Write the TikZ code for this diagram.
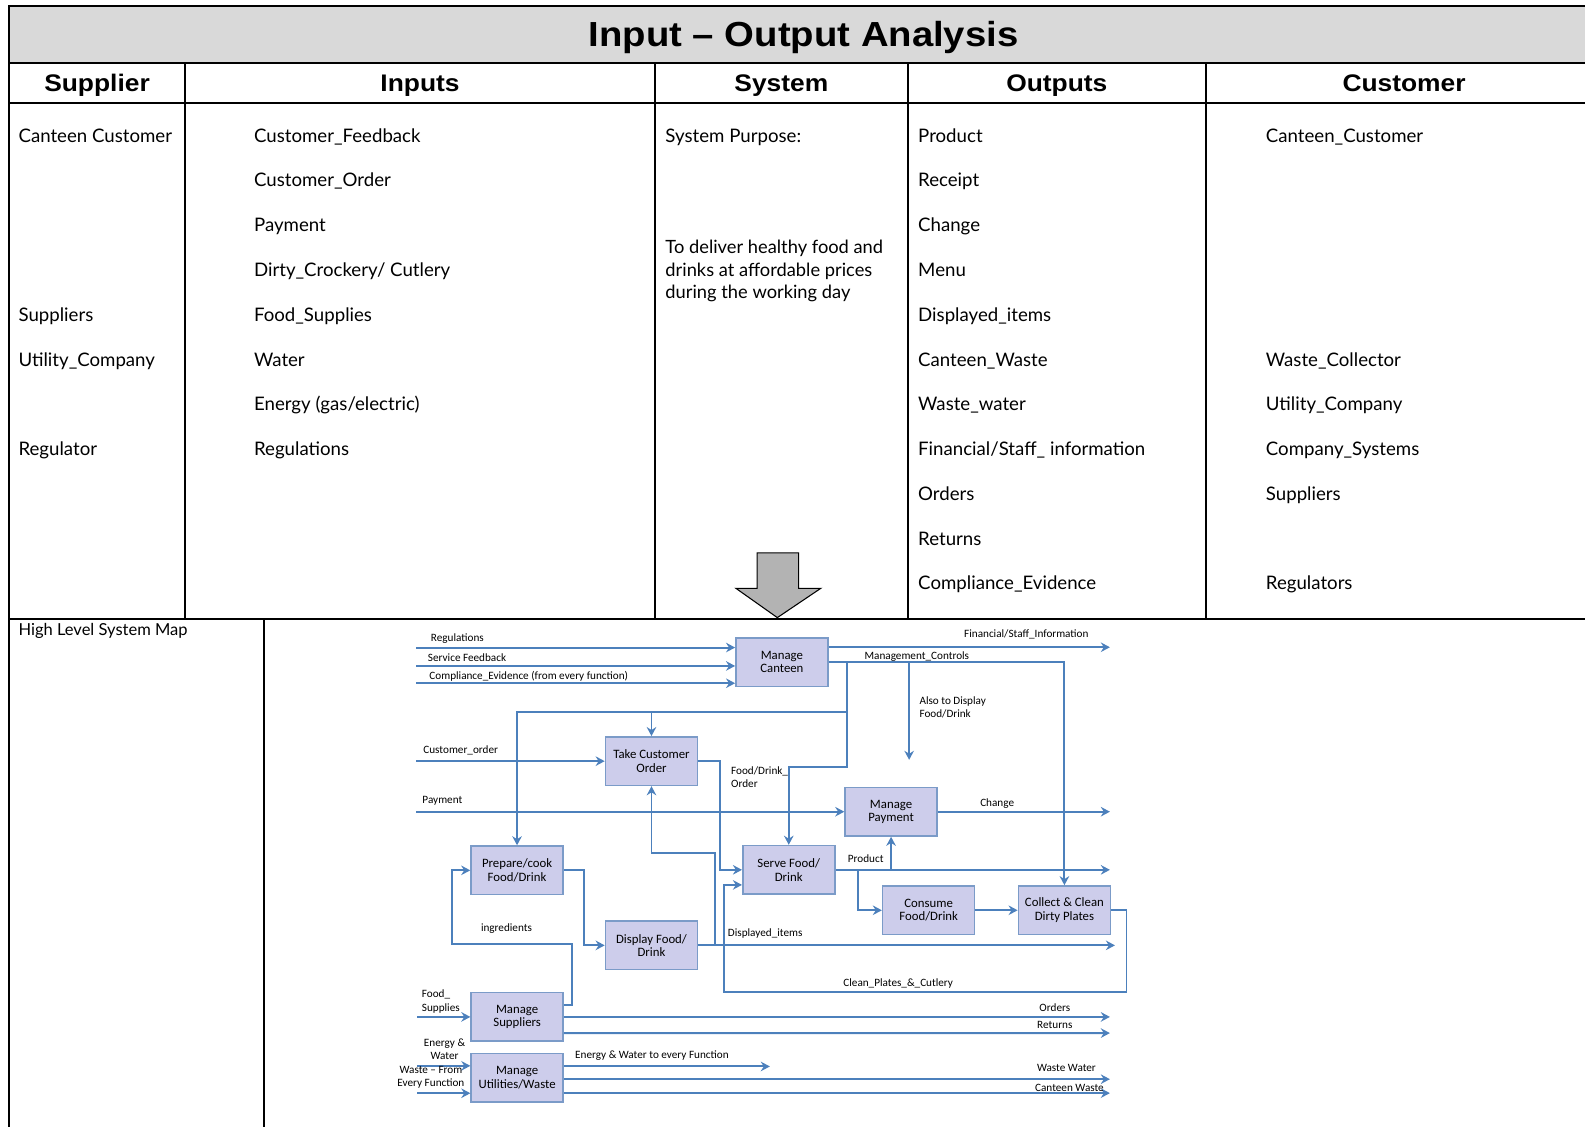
\documentclass[tikz,border=0pt]{standalone}
\usepackage{fontspec}
\setmainfont{Lato}
\newfontfamily\hdfont[FakeStretch=1.1]{Liberation Sans}
\newfontfamily\mapfont{Carlito}
\usetikzlibrary{arrows.meta}
\definecolor{flowblue}{HTML}{4C80BC}
\definecolor{boxfill}{HTML}{CDCDEB}
\definecolor{boxline}{HTML}{7B9BC8}
\definecolor{band}{HTML}{D9D9D9}
\definecolor{bigarrow}{HTML}{B3B3B3}
\tikzset{
  grid/.style={line width=1.1pt},
  head/.style={font=\hdfont\bfseries\fontsize{13.5}{16}\selectfont, inner sep=0pt, text height=9.7pt, text depth=0pt},
  cell/.style={font=\fontsize{10.5}{12.6}\selectfont, anchor=west, inner sep=0pt, text height=7.5pt, text depth=0pt},
  fn/.style={draw=boxline, fill=boxfill, line width=0.9pt, minimum width=1.82cm, minimum height=0.96cm,
    align=center, inner sep=1pt, font=\mapfont\fontsize{7.2}{7.6}\selectfont},
  flow/.style={draw=flowblue, line width=1.1pt, -{Stealth[length=1.8mm,width=1.9mm,inset=0.6mm]}},
  lbl/.style={font=\mapfont\fontsize{6.3}{7.4}\selectfont, inner sep=0pt, anchor=west, text height=4pt, text depth=0pt},
  note/.style={font=\mapfont\fontsize{6.3}{7.4}\selectfont, inner sep=0pt}
}
\begin{document}
\begin{tikzpicture}[x=0.02cm,y=-0.02cm]
\useasboundingbox (0,0) rectangle (1568,1114);
% table
\fill[band] (9,6) rectangle (1600,62);
\draw[grid] (9,1130) -- (9,6) -- (1600,6);
\draw[grid] (9,62) -- (1600,62) (9,102) -- (1600,102) (9,612) -- (1600,612);
\foreach \x in {183,648,898,1193} {
	\draw[grid] (\x,62) -- (\x,612);
}
\draw[grid] (261,612) -- (261,1130);
\node[head, font=\hdfont\bfseries\fontsize{19.6}{24}\selectfont, text height=14pt] (title) at (795,34) {Input – Output Analysis};
\foreach \x/\t [count=\i] in {96/Supplier,415.5/Inputs,773/System,1045.5/Outputs,1389/Customer} {
	\node[head] (hd-\i) at (\x,82) {\t};
}
\foreach \r/\t in {1/Canteen Customer,5/Suppliers,6/Utility\_Company,8/Regulator} {
	\node[cell] (sup-\r) at (18,{134+44.3*(\r-1)}) {\t};
}
\foreach \t [count=\i] in {Customer\_Feedback,Customer\_Order,Payment,Dirty\_Crockery/ Cutlery,Food\_Supplies,Water,Energy (gas/electric),Regulations} {
	\node[cell] (in-\i) at (251,{134+44.3*(\i-1)}) {\t};
}
\node[cell] (purpose) at (658,134) {System Purpose:};
\node[font=\fontsize{10.3}{12.8}\selectfont, inner sep=0pt, anchor=north west, align=left] (aim) at (658,237) {To deliver healthy food and\\drinks at affordable prices\\during the working day};
\foreach \t [count=\i] in {Product,Receipt,Change,Menu,Displayed\_items,Canteen\_Waste,Waste\_water,Financial/Staff\_ information,Orders,Returns,Compliance\_Evidence} {
	\node[cell] (out-\i) at (908,{134+44.3*(\i-1)}) {\t};
}
\foreach \r/\t in {1/Canteen\_Customer,6/Waste\_Collector,7/Utility\_Company,8/Company\_Systems,9/Suppliers,11/Regulators} {
	\node[cell] (cus-\r) at (1252,{134+44.3*(\r-1)}) {\t};
}
\draw[fill=bigarrow, line width=0.6pt] (749,547) -- (790,547) -- (790,582) -- (812,582) -- (769,611) -- (728,582) -- (749,582) -- cycle;
\node[cell, font=\fontsize{9.3}{11}\selectfont] (maptitle) at (18,622) {High Level System Map};
% system map
\node[fn] (mc) at (773.5,655) {Manage\\Canteen};
\node[fn] (tco) at (644.5,753) {Take Customer\\Order};
\node[fn] (mp) at (881.5,803) {Manage\\Payment};
\node[fn] (pc) at (511.5,861) {Prepare/cook\\Food/Drink};
\node[fn] (sf) at (780.3,860.5) {Serve Food/\\Drink};
\node[fn] (cf) at (918.7,900.5) {Consume\\Food/Drink};
\node[fn] (cc) at (1053,900.5) {Collect \& Clean\\Dirty Plates};
\node[fn] (df) at (644.5,935.2) {Display Food/\\Drink};
\node[fn] (ms) at (511.6,1006) {Manage\\Suppliers};
\node[fn] (mu) at (511.6,1066) {Manage\\Utilities/Waste};
\coordinate (inReg) at (412,640.6);
\coordinate (inSF) at (412,658.8);
\coordinate (inCE) at (412,675.9);
\coordinate (inCO) at (412,753);
\coordinate (inPay) at (412,803);
\coordinate (inFS) at (412.8,1006);
\coordinate (inEW) at (412.8,1054.4);
\coordinate (inW) at (412.8,1081.5);
\coordinate (outFin) at (1098,640.3);
\coordinate (outCh) at (1098,803);
\coordinate (outProd) at (1098,860.5);
\coordinate (outDI) at (1103,935.2);
\coordinate (outOrd) at (1098,1006);
\coordinate (outRet) at (1098,1022);
\coordinate (outEW) at (761.6,1055);
\coordinate (outWW) at (1098,1067.6);
\coordinate (outCW) at (1098,1081.4);
\coordinate (jA) at (837.5,704.6);
\coordinate (jB) at (837.5,758.3);
\coordinate (disp) at (899.4,751.7);
\coordinate (jC) at (707.2,935.2);
\coordinate (jD) at (644.5,843.5);
\coordinate (jF) at (1114.4,981);
\coordinate (jG) at (716.5,875.4);
\coordinate (jH) at (849,860.5);
\coordinate (jI) at (565.4,934);
\coordinate (jJ) at (447.4,934);
\coordinate (jK) at (712.2,753);
\foreach \c in {inReg,inSF,inCE} {
	\draw[flow] (\c) -- (\c -| mc.west);
}
\draw[flow] (mc.east |- outFin) -- (outFin);
\draw[flow] (mc.east) -| (cc.north);
\draw[flow] (mc.east -| jA) -- (jA) -| (pc.north);
\draw[flow] (tco.north |- jA) -- (tco.north);
\draw[flow] (jA) -- (jB) -| (sf.north);
\draw[flow] (disp |- mc.east) -- (disp);
\draw[flow] (inCO) -- (tco.west);
\draw[flow] (inPay) -- (mp.west);
\draw[flow] (mp.east) -- (outCh);
\draw[flow] (tco.east) -- (jK) |- (sf.west);
\draw[flow] (df.east) -- (jC) |- (jD) -- (tco.south);
\draw[flow] (jC) -- (outDI);
\draw[flow] (cc.east) -| (jF) -- (jF -| jG) -- (jG) -- (jG -| sf.west);
\draw[flow] (sf.east) -- (outProd);
\draw[flow] (mp.south |- sf.east) -- (mp.south);
\draw[flow] (jH) |- (cf.west);
\draw[flow] (cf.east) -- (cc.west);
\draw[flow] (pc.east) -- ++(20.4,0) |- (df.west);
\draw[flow] ([yshift=0.24cm]ms.east) -| (jI) -- (jJ) |- (pc.west);
\draw[flow] (inFS) -- (ms.west);
\draw[flow] (ms.east) -- (outOrd);
\draw[flow] ([yshift=-0.32cm]ms.east) -- (outRet);
\foreach \c in {inEW,inW} {
	\draw[flow] (\c) -- (\c -| mu.west);
}
\foreach \c in {outEW,outWW,outCW} {
	\draw[flow] (\c -| mu.east) -- (\c);
}
% labels
\node[lbl] (lReg) at (426,630.8) {Regulations};
\node[lbl] (lSF) at (423,650.5) {Service Feedback};
\node[lbl] (lCE) at (424.5,668.3) {Compliance\_Evidence (from every function)};
\node[lbl] (lFin) at (953.5,627.4) {Financial/Staff\_Information};
\node[lbl] (lMC) at (855,648.6) {Management\_Controls};
\node[note, anchor=north west, align=left] (lDisp) at (909.3,688.7) {Also to Display\\Food/Drink};
\node[lbl] (lCO) at (418.5,742) {Customer\_order};
\node[lbl] (lPay) at (417.6,791.3) {Payment};
\node[lbl] (lCh) at (969.4,794.6) {Change};
\node[note, anchor=north west, align=left] (lFDO) at (723,758.3) {Food/Drink\_\\Order};
\node[lbl] (lProd) at (838.5,850) {Product};
\node[lbl] (lDI) at (719.8,923.2) {Displayed\_items};
\node[lbl] (lCP) at (834,972.6) {Clean\_Plates\_\&\_Cutlery};
\node[lbl] (ling) at (475.5,918.2) {ingredients};
\node[note, anchor=north west, align=left] (lFS) at (417,979.2) {Food\_\\Supplies};
\node[lbl, anchor=center] (lOrd) at (1043.5,997.4) {Orders};
\node[lbl, anchor=center] (lRet) at (1043.5,1013.8) {Returns};
\node[note, anchor=north, align=center] (lEW) at (439.8,1027) {Energy \&\\Water};
\node[note, anchor=north, align=center] (lW) at (426.3,1054.4) {Waste – From\\Every Function};
\node[lbl] (lEWo) at (568.7,1043.9) {Energy \& Water to every Function};
\node[lbl, anchor=center] (lWW) at (1055,1056) {Waste Water};
\node[lbl, anchor=center] (lCW) at (1058,1076) {Canteen Waste};
\end{tikzpicture}
\end{document}
